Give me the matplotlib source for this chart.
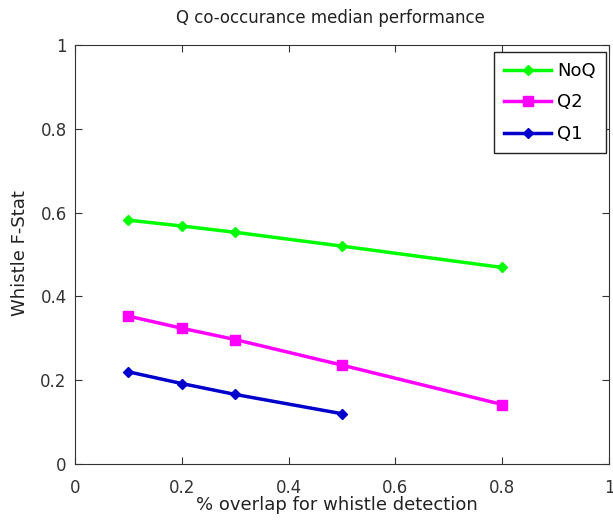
import matplotlib
matplotlib.use("Agg")
import matplotlib.pyplot as plt

plt.rcParams['font.family'] = ['DejaVu Sans']

overlap = [0.1, 0.2, 0.3, 0.5, 0.8]
noq = [0.582, 0.568, 0.553, 0.520, 0.469]
q2 = [0.353, 0.324, 0.297, 0.236, 0.142]
overlap_q1 = [0.1, 0.2, 0.3, 0.5]
q1 = [0.220, 0.192, 0.166, 0.120]
xticks = [0, 0.2, 0.4, 0.6, 0.8, 1]
yticks = [0, 0.2, 0.4, 0.6, 0.8, 1]

W, H = 613, 523
fig = plt.figure(figsize=(W/100, H/100), dpi=100)
ax = fig.add_axes([75/W, 1-464/H, 534/W, 419/H])

ax.plot(overlap, noq, color='#00ff00', lw=2.5, marker='D', ms=5.5, label='NoQ')
ax.plot(overlap, q2, color='#ff00ff', lw=2.5, marker='s', ms=7, label='Q2')
ax.plot(overlap_q1, q1, color='#0000cc', lw=2.5, marker='D', ms=5.5, label='Q1')

ax.set_xlim(0, 1)
ax.set_ylim(0, 1)
ax.set_xticks(xticks)
ax.set_yticks(yticks)
ax.set_xticklabels([f'{t:g}' for t in xticks])
ax.set_yticklabels([f'{t:g}' for t in yticks])
ax.tick_params(direction='in', top=True, right=True, length=5, labelsize=12, colors='#333333')
ax.tick_params(axis='x', pad=11)
ax.tick_params(axis='y', pad=6)
for s in ax.spines.values():
    s.set_color('#333333')

fig.text(330/W, 1-18/H, 'Q co-occurance median performance', fontsize=12,
         ha='center', va='center', color='#222222')
fig.text(337/W, 1-505/H, '% overlap for whistle detection', fontsize=13,
         ha='center', va='center', color='#222222')
fig.text(20/W, 1-253/H, 'Whistle F-Stat', fontsize=13, rotation=90,
         ha='center', va='center', color='#222222')

leg = ax.legend(loc='upper right', bbox_to_anchor=(606/W, 1-52/H),
                bbox_transform=fig.transFigure, borderaxespad=0,
                fontsize=13, fancybox=False, framealpha=1,
                edgecolor='#222222', handlelength=2.6, handletextpad=0.35,
                borderpad=0.55, labelspacing=0.75)
leg.get_frame().set_linewidth(1.0)

fig.savefig('out.png', dpi=100)
